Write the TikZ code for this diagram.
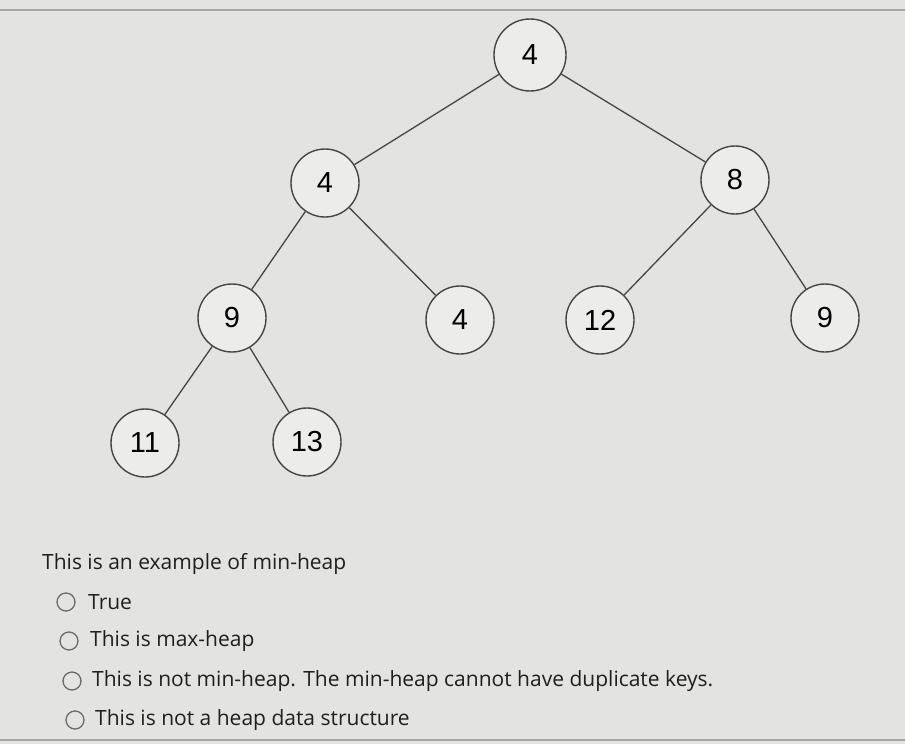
\documentclass[tikz,border=0pt]{standalone}
\usepackage{fontspec}
\setmainfont{Open Sans}
\newfontfamily\nodefont{Liberation Sans}
\definecolor{bgc}{HTML}{E3E4E2}
\definecolor{nodefill}{HTML}{ECECEB}
\definecolor{edgec}{HTML}{454545}
\begin{document}
\begin{tikzpicture}[x=1pt,y=-1pt,
  hnode/.style={circle,draw=edgec,line width=1.4pt,fill=nodefill,minimum size=68pt,inner sep=0pt,font=\nodefont\fontsize{29}{32}\selectfont},
  edge/.style={draw=edgec,line width=1.3pt},
  radio/.style={circle,draw=edgec!80,line width=1.3pt,minimum size=18pt,inner sep=0pt},
  qtext/.style={anchor=west,inner sep=0pt,font=\fontsize{21}{25}\selectfont,text=black!88}]
\fill[bgc] (0,0) rectangle (905,744);
\useasboundingbox (0,0) rectangle (905,744);
\draw[gray!70,line width=1.5pt] (0,10) -- (905,10);
\draw[gray!70,line width=1.5pt] (0,740) -- (905,740);
\node[hnode,minimum size=72pt] (r) at (530,55) {4};
\node[hnode] (a) at (325,183) {4};
\node[hnode] (b) at (735,180) {8};
\node[hnode] (c) at (232,318) {9};
\node[hnode] (d) at (460,320) {4};
\node[hnode] (e) at (600,320) {12};
\node[hnode] (f) at (825,318) {9};
\node[hnode] (g) at (145,443) {11};
\node[hnode] (h) at (307,442) {13};
\path[edge] (r) -- (a);
\path[edge] (r) -- (b);
\path[edge] (a) -- (c);
\path[edge] (a) -- (d);
\path[edge] (b) -- (e);
\path[edge] (b) -- (f);
\path[edge] (c) -- (g);
\path[edge] (c) -- (h);
\node[qtext] (q) at (42,564) {This is an example of min-heap};
\node[radio] (o1) at (66,602) {};
\node[radio] (o2) at (69,641) {};
\node[radio] (o3) at (72,681) {};
\node[radio] (o4) at (75,720) {};
\node[qtext] (t1) at (88,602) {True};
\node[qtext] (t2) at (90,641) {This is max-heap};
\node[qtext] (t3) at (92,681) {This is not min-heap. The min-heap cannot have duplicate keys.};
\node[qtext] (t4) at (95,720) {This is not a heap data structure};
\end{tikzpicture}
\end{document}
